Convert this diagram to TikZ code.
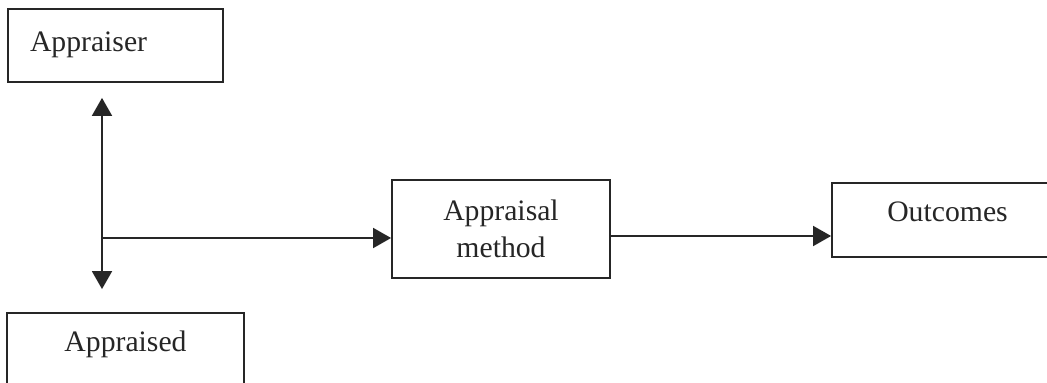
\documentclass[tikz,border=0pt]{standalone}
\usepackage{fontspec}
\setmainfont{Liberation Serif}
\usetikzlibrary{arrows.meta,calc}
\begin{document}
\begin{tikzpicture}[x=0.5pt,y=-0.5pt,
  box/.style={draw=black!85, line width=0.9pt, inner sep=0pt, text=black!85,
    font=\fontsize{14.85pt}{18.5pt}\selectfont},
  arr/.style={draw=black!85, line width=0.9pt, -{Triangle[length=9pt,width=10pt]}}]
\useasboundingbox (0,0) rectangle (1047,383);
\clip (0,0) rectangle (1047,383);
\node[box, minimum width=107.5pt, minimum height=36.5pt, text width=85.5pt,
  align=left, inner xsep=11pt, text height=10pt, text depth=3.5pt] (appraiser) at (115.5,45.5) {Appraiser};
\node[box, minimum width=118.5pt, minimum height=43.5pt, text height=10.4pt, text depth=14.9pt] (appraised) at (125.5,356.5) {Appraised};
\node[box, minimum width=109pt, minimum height=49pt, align=center] (method) at (501,229) {Appraisal\\method};
\node[box, minimum width=115.5pt, minimum height=37pt, text height=10pt, text depth=8pt] (outcomes) at (947.5,220) {Outcomes};
\coordinate (j) at (102,238);
\coordinate (m) at ($(method.east)+(0,7)$);
\draw[arr, shorten >=7.5pt] (j) -- (j |- appraiser.south);
\draw[arr, shorten >=11.5pt] (j) -- (j |- appraised.north);
\draw[arr] (j) -- (j -| method.west);
\draw[arr] (m) -- (m -| outcomes.west);
\end{tikzpicture}
\end{document}
